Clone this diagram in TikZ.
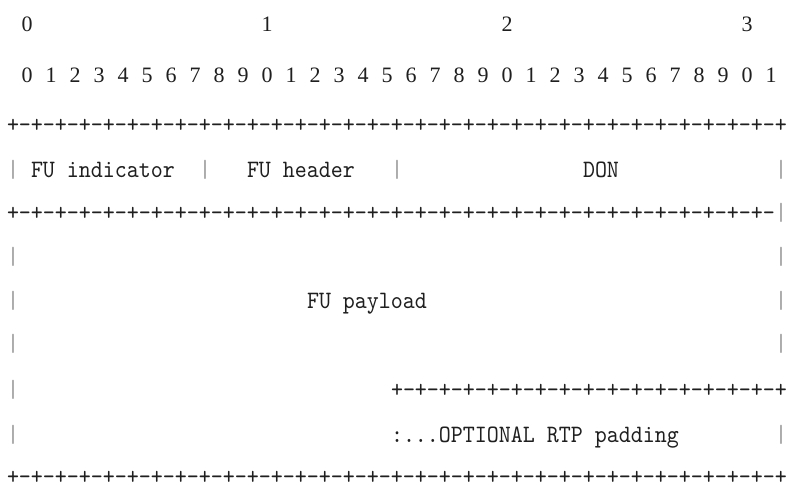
\documentclass[tikz,border=0pt]{standalone}
\usepackage{fontspec}
\setmainfont{Liberation Serif}
\newfontfamily\asciifont[FakeStretch=0.914]{lmmono10-regular.otf}
\begin{document}
\begin{tikzpicture}[x=1pt,y=-1pt,
  every node/.style={inner sep=0pt,outer sep=0pt,text=black!88},
  dig/.style={anchor=base,font=\fontsize{22}{22}\selectfont},
  asc/.style={anchor=base west,font=\asciifont\fontsize{25}{25}\selectfont},
  bar/.style={anchor=base,font=\asciifont\fontsize{25}{25}\selectfont,text=black!40}]
\useasboundingbox (0,0) rectangle (787,502);
% row 0: octet numbers
\node[dig] (o0) at ({15+12*1},31.5) {0};
\node[dig] (o1) at ({15+12*21},31.5) {1};
\node[dig] (o2) at ({15+12*41},31.5) {2};
\node[dig] (o3) at ({15+12*61},31.5) {3};
% row 1: bit numbers
\foreach \i [evaluate=\i as \d using {int(mod(\i,10))}] in {0,...,31}
  \node[dig] (b\i) at ({27+24*\i},82.5) {\d};
% row 2
\node[asc] (top) at (7,132.5) {+-+-+-+-+-+-+-+-+-+-+-+-+-+-+-+-+-+-+-+-+-+-+-+-+-+-+-+-+-+-+-+-+};
% row 3
\node[bar] (r3a) at ({13+12*0},177.5) {|};
\node[asc] (fui) at ({7+12*2},177.5) {FU indicator};
\node[bar] (r3b) at ({13+12*16},177.5) {|};
\node[asc] (fuh) at ({7+12*20},177.5) {FU header};
\node[bar] (r3c) at ({13+12*32},177.5) {|};
\node[asc] (don) at ({7+12*48},177.5) {DON};
\node[bar] (r3d) at ({13+12*64},177.5) {|};
% row 4
\node[asc] (mid) at (7,220.5) {+-+-+-+-+-+-+-+-+-+-+-+-+-+-+-+-+-+-+-+-+-+-+-+-+-+-+-+-+-+-+-+-};
\node[bar] (r4d) at ({13+12*64},220.5) {|};
% row 5
\node[bar] (r5a) at ({13+12*0},264.5) {|};
\node[bar] (r5d) at ({13+12*64},264.5) {|};
% row 6
\node[bar] (r6a) at ({13+12*0},308.5) {|};
\node[asc] (fup) at ({7+12*25},308.5) {FU payload};
\node[bar] (r6d) at ({13+12*64},308.5) {|};
% row 7
\node[bar] (r7a) at ({13+12*0},351.5) {|};
\node[bar] (r7d) at ({13+12*64},351.5) {|};
% row 8
\node[bar] (r8a) at ({13+12*0},397.5) {|};
\node[asc] (pad) at ({7+12*32},397.5) {+-+-+-+-+-+-+-+-+-+-+-+-+-+-+-+-+};
% row 9
\node[bar] (r9a) at ({13+12*0},442.5) {|};
\node[asc] (opt) at ({7+12*32},442.5) {:...OPTIONAL RTP padding};
\node[bar] (r9d) at ({13+12*64},442.5) {|};
% row 10
\node[asc] (bot) at (7,484.5) {+-+-+-+-+-+-+-+-+-+-+-+-+-+-+-+-+-+-+-+-+-+-+-+-+-+-+-+-+-+-+-+-+};
\end{tikzpicture}
\end{document}
